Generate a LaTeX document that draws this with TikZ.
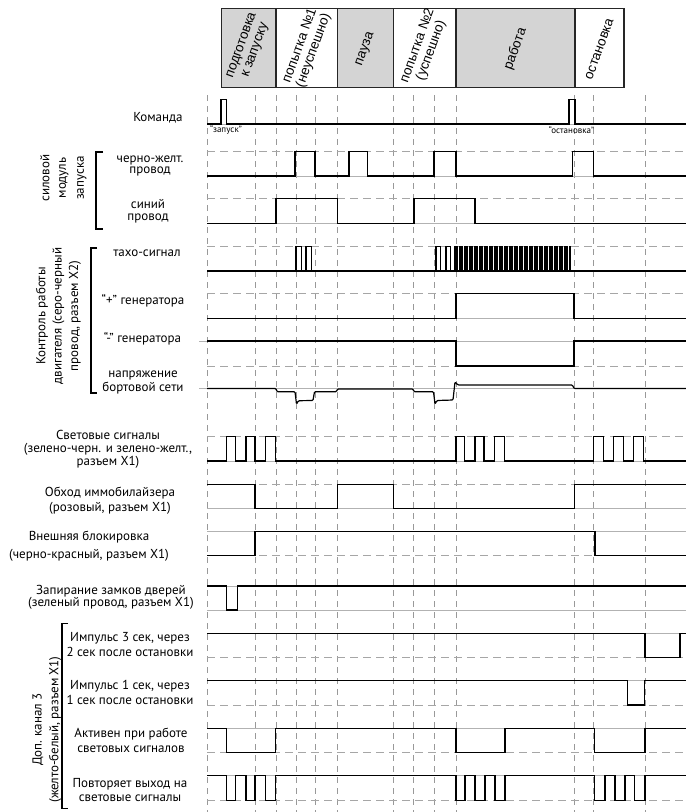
\documentclass[tikz,border=0pt]{standalone}
\usepackage{fontspec}
\setmainfont{PT Sans}
\newfontfamily\hdrfont{Liberation Sans}
\usepackage{tikz}

\begin{document}
\begin{tikzpicture}[x=1pt,y=-1pt,
    sig/.style={line width=1.2pt,black},
    lvl/.style={line width=0.8pt,black!30},
    lvldash/.style={line width=0.8pt,black!35,dash pattern=on 8pt off 5pt},
    vgrid/.style={line width=0.8pt,black!40,dash pattern=on 6pt off 5pt},
    brk/.style={line width=1.1pt,black},
    phase/.style={draw=black!85,line width=1.1pt},
    hdr/.style={font=\hdrfont\fontsize{13.5}{14.5}\selectfont,align=center,rotate=70},
    lbl/.style={font=\fontsize{13}{14.5}\selectfont,align=center},
    grp/.style={font=\fontsize{13}{15}\selectfont,rotate=90},
    tiny/.style={font=\fontsize{9}{10}\selectfont}]
    \useasboundingbox (0,0) rectangle (686,812);

    \filldraw[phase,fill=black!17] (221.7,8.3) rectangle (276,87.3);
    \filldraw[phase,fill=white] (276,8.3) rectangle (337.7,87.3);
    \filldraw[phase,fill=black!17] (337.7,8.3) rectangle (393.3,87.3);
    \filldraw[phase,fill=white] (393.3,8.3) rectangle (456,87.3);
    \filldraw[phase,fill=black!17] (456,8.3) rectangle (575,87.3);
    \filldraw[phase,fill=white] (575,8.3) rectangle (624,87.3);
    \node[hdr] (prep) at (249,48) {подготовка\\к запуску};
    \node[hdr] (try1) at (307,48) {попытка №1\\(неуспешно)};
    \node[hdr] (pause) at (365.5,49) {пауза};
    \node[hdr] (try2) at (424.5,48) {попытка №2\\(успешно)};
    \node[hdr] (run) at (515.5,49) {работа};
    \node[hdr] (stop) at (599.5,49) {остановка};

    \foreach \gx in {207,255,276,296,315,337.5,393,413,434,456,574,593,645}
      \draw[vgrid] (\gx,95) -- (\gx,812);
    \foreach \ly in {124,176,223.3,271,318.3,461,508.3,531.7,586,610,633.3,680.7,728.3,775.7}
      \draw[lvl] (207,\ly) -- (686,\ly);
    \foreach \ly in {151.7,198.7,246.7,293.3,366,436.7,484.3,555.5,657.7,705,752.7,800.7}
      \draw[lvldash] (207,\ly) -- (686,\ly);
    \draw[lvl] (199,341) -- (686,341);
    \draw[lvl] (199,388.5) -- (686,388.5);

    \draw[sig] (207,124) -| (221,99.5) -| (226.5,124) -| (569,99.5) -| (575,124) -- (686,124);
    \draw[sig] (207,176) -| (295,151.7) -| (315,176) -| (349,151.7) -| (367.5,176) -| (434,151.7) -| (456,176) -| (572.5,151.7) -| (593.5,176) -- (686,176);
    \draw[sig] (207,223.3) -| (276,198.7) -| (337.5,223.3) -| (414,198.7) -| (475,223.3) -- (686,223.3);

    \draw[sig] (207,271) -- (686,271);
    \foreach \px/\pw in {296/5.5,306/5.5,436/4.5,446/4.5}
      \draw[sig] (\px,271) |- (\px+\pw,246.7) -- (\px+\pw,271);
    \foreach \px in {454,456.5,...,571}
      \draw[line width=0.7pt,black] (\px,271) |- (\px+1.2,246.7) -- (\px+1.2,271);
    \draw[sig] (207,318.3) -| (456,293.3) -| (574,318.3) -- (686,318.3);
    \draw[sig] (207,341) -| (456,366) -| (574,341) -- (686,341);
    \draw[sig,rounded corners=1pt] (207,388.5) -- (276,388.5) -- (277,391.7) -- (295,391.7) -- (296.5,404) -- (298.5,400.7) -- (313,400.5) -- (314.5,391.7) -- (336.5,391.7) -- (337.5,389) -- (413,389) -- (414,391.7) -- (433.5,391.7) -- (435,404) -- (437,400.5) -- (453,400) -- (455,382) -- (458,385) -- (572.5,385) -- (574,388.5) -- (686,388.5);

    \draw[sig] (207,461) -| (226.7,436.7) -| (235.7,461) -| (246,436.7) -| (255,461) -| (265.7,436.7) -| (275.3,461) -| (456,436.7) -| (464.3,461) -| (475,436.7) -| (484,461) -| (494.7,436.7) -| (504.3,461) -| (593.3,436.7) -| (603.3,461) -| (613.7,436.7) -| (623.3,461) -| (633.7,436.7) -| (643.7,461) -- (686,461);
    \draw[sig] (207,484.3) -| (255,508.3) -| (337.5,484.3) -| (393.3,508.3) -| (574.3,484.3) -- (686,484.3);
    \draw[sig] (207,555.5) -| (255,531.7) -| (595,555.5) -- (686,555.5);
    \draw[sig] (207,586) -| (226.7,610) -| (237.7,586) -- (686,586);

    \draw[sig] (207,633.3) -| (645,657.7) -| (680,633.3) -- (686,633.3);
    \draw[sig] (207,680.7) -| (627.7,705) -| (644.3,680.7) -- (686,680.7);
    \draw[sig] (207,728.3) -| (226.7,752.7) -| (275.3,728.3) -| (456,752.7) -| (505,728.3) -| (594.3,752.7) -| (645,728.3) -- (686,728.3);
    \draw[sig] (207,775.7) -| (226.7,800.7) -| (235.7,775.7) -| (246,800.7) -| (255,775.7) -| (265.7,800.7) -| (275.3,775.7) -| (456,800.7) -| (465,775.7) -| (475,800.7) -| (485,775.7) -| (495,800.7) -| (505,775.7) -| (594.3,800.7) -| (605,775.7) -| (615,800.7) -| (625,775.7) -| (634.3,800.7) -| (645,775.7) -- (686,775.7);

    \node[tiny] (go) at (226,129.5) {“запуск”};
    \node[tiny] (halt) at (571.5,130.5) {“остановка”};

    \node[lbl] (cmd) at (158,118) {Команда};
    \node[lbl] (cyw) at (150,166) {черно-желт.\\[-3pt]провод};
    \node[lbl] (blw) at (148,211) {синий\\[-3pt]провод};
    \node[lbl] (tach) at (147,253.5) {тахо-сигнал};
    \node[lbl] (genp) at (143,300.5) {“+” генератора};
    \node[lbl] (genm) at (142.5,338.5) {“-” генератора};
    \node[lbl] (batt) at (143,382.5) {напряжение\\[-1pt]бортовой сети};
    \node[lbl] (lights) at (108,449) {Световые сигналы\\[-1.5pt](зелено-черн. и зелено-желт.,\\[-1.5pt]разъем X1)};
    \node[lbl] (immo) at (110,500.7) {Обход иммобилайзера\\[1pt](розовый, разъем X1)};
    \node[lbl] (xblock) at (89,546.5) {Внешняя блокировка\\[3.5pt](черно-красный, разъем X1)};
    \node[lbl] (lock) at (111,597.3) {Запирание замков дверей\\[-2pt](зеленый провод, разъем X1)};
    \node[lbl] (imp3) at (130,644.5) {Импульс 3 сек, через\\[0.5pt]2 сек после остановки};
    \node[lbl] (imp1) at (130,692.8) {Импульс 1 сек, через\\[0.5pt]1 сек после остановки};
    \node[lbl] (act) at (131,740.3) {Активен при работе\\[0pt]световых сигналов};
    \node[lbl] (rep) at (130,789.8) {Повторяет выход на\\[0pt]световые сигналы};

    \draw[brk] (103,152) -| (96,229) -- (103,229);
    \draw[brk] (97,248) -| (91,393) -- (97,393);
    \draw[brk] (68,623.3) -| (62,808.3) -- (68,808.3);
    \node[grp] (pwr1) at (45,178) {силовой};
    \node[grp] (pwr2) at (64,178) {модуль};
    \node[grp] (pwr3) at (82,178) {запуска};
    \node[grp] (ctl1) at (42,316) {Контроль работы};
    \node[grp] (ctl2) at (58.5,316) {двигателя (серо-черный};
    \node[grp] (ctl3) at (75,316) {провод,  разъем X2)};
    \node[grp] (extra1) at (38,729.5) {Доп. канал 3};
    \node[grp] (extra2) at (55,729.5) {(желто-белый, разъем X1)};
\end{tikzpicture}
\end{document}
